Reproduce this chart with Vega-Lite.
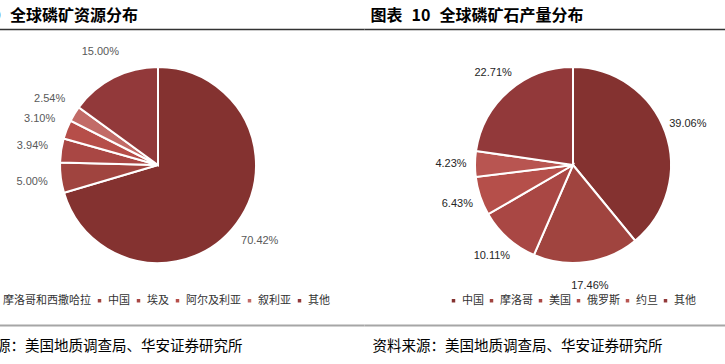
{
  "$schema": "https://vega.github.io/schema/vega-lite/v6.json",
  "padding": {"left": -50, "right": -57, "top": 7, "bottom": 0},
  "background": "white",
  "spacing": 0,
  "config": {"view": {"stroke": null}, "font": "Noto Sans CJK SC"},
  "resolve": {"scale": {"color": "independent"}, "legend": {"color": "independent"}},
  "hconcat": [
    {
      "width": 412,
      "height": 272,
      "data": {"values": [
        {"name": "摩洛哥和西撒哈拉", "value": 0.7042, "ord": 1},
        {"name": "中国", "value": 0.05, "ord": 2},
        {"name": "埃及", "value": 0.0394, "ord": 3},
        {"name": "阿尔及利亚", "value": 0.031, "ord": 4},
        {"name": "叙利亚", "value": 0.0254, "ord": 5},
        {"name": "其他", "value": 0.15, "ord": 6}
      ]},
      "layer": [
        {
          "mark": {"type": "arc", "outerRadius": 98, "stroke": "white", "strokeWidth": 2},
          "encoding": {
            "theta": {"field": "value", "type": "quantitative", "stack": true},
            "order": {"field": "ord", "type": "quantitative"},
            "color": {
              "field": "name", "type": "nominal",
              "scale": {"domain": ["摩洛哥和西撒哈拉", "中国", "埃及", "阿尔及利亚", "叙利亚", "其他"],
                        "range": ["#843230", "#a0443f", "#a94744", "#b64e49", "#c26b67", "#92393a"]},
              "legend": {"orient": "none", "legendX": 37, "legendY": 266, "direction": "horizontal", "title": null,
                         "symbolType": "square", "symbolSize": 12, "symbolStrokeWidth": 0, "labelFontSize": 11,
                         "labelFont": "Noto Sans CJK SC", "labelColor": "#333333", "columnPadding": 3, "labelOffset": 3}
            }
          }
        },
        {
          "mark": {"type": "text", "radius": 127, "font": "Liberation Sans", "fontSize": 11, "fill": "#595959"},
          "encoding": {
            "theta": {"field": "value", "type": "quantitative", "stack": true},
            "order": {"field": "ord", "type": "quantitative"},
            "detail": {"field": "name", "type": "nominal"},
            "text": {"field": "value", "type": "quantitative", "format": ".2%"}
          }
        },
        {
          "mark": {"type": "rule", "opacity": 0},
          "encoding": {
            "x": {"datum": 0, "type": "quantitative", "scale": {"domain": [0, 1]},
                  "axis": {"orient": "bottom", "offset": 24, "domainColor": "#a6a6a6", "domainWidth": 2,
                           "ticks": false, "labels": false, "grid": false,
                           "title": "资料来源：美国地质调查局、华安证券研究所", "titleAnchor": "start", "titleAlign": "left",
                           "titleFontSize": 14.5, "titleFontWeight": "normal", "titleColor": "#000000",
                           "titlePadding": 14, "titleFont": "Noto Sans CJK SC"}}
          }
        },
        {
          "mark": {"type": "rule", "opacity": 0},
          "encoding": {
            "x": {"datum": 0, "type": "quantitative", "scale": {"domain": [0, 1]},
                  "axis": {"orient": "top", "domainColor": "#333333", "domainWidth": 1.5,
                           "ticks": false, "labels": false, "grid": false,
                           "title": "图表\u2002\u200a9\u2002\u200a全球磷矿资源分布", "titleX": -2, "titleAlign": "left",
                           "titleFontSize": 16, "titleFontWeight": "bold", "titleColor": "#000000",
                           "titlePadding": 6, "titleFont": "Noto Sans CJK SC"}}
          }
        }
      ],
      "resolve": {"scale": {"x": "independent"}, "axis": {"x": "independent"}}
    },
    {
      "width": 418,
      "height": 272,
      "data": {"values": [
        {"name": "中国", "value": 0.3906, "ord": 1},
        {"name": "摩洛哥", "value": 0.1746, "ord": 2},
        {"name": "美国", "value": 0.1011, "ord": 3},
        {"name": "俄罗斯", "value": 0.0643, "ord": 4},
        {"name": "约旦", "value": 0.0423, "ord": 5},
        {"name": "其他", "value": 0.2271, "ord": 6}
      ]},
      "layer": [
        {
          "mark": {"type": "arc", "outerRadius": 98, "stroke": "white", "strokeWidth": 2},
          "encoding": {
            "theta": {"field": "value", "type": "quantitative", "stack": true},
            "order": {"field": "ord", "type": "quantitative"},
            "color": {
              "field": "name", "type": "nominal",
              "scale": {"domain": ["中国", "摩洛哥", "美国", "俄罗斯", "约旦", "其他"],
                        "range": ["#843230", "#a0443f", "#a94744", "#b54f4a", "#b85551", "#92393a"]},
              "legend": {"orient": "none", "legendX": 84, "legendY": 266, "direction": "horizontal", "title": null,
                         "symbolType": "square", "symbolSize": 12, "symbolStrokeWidth": 0, "labelFontSize": 11,
                         "labelFont": "Noto Sans CJK SC", "labelColor": "#333333", "columnPadding": 2, "labelOffset": 3}
            }
          }
        },
        {
          "mark": {"type": "text", "radius": 122, "font": "Liberation Sans", "fontSize": 11, "fill": "#262626"},
          "encoding": {
            "theta": {"field": "value", "type": "quantitative", "stack": true},
            "order": {"field": "ord", "type": "quantitative"},
            "detail": {"field": "name", "type": "nominal"},
            "text": {"field": "value", "type": "quantitative", "format": ".2%"}
          }
        },
        {
          "mark": {"type": "rule", "opacity": 0},
          "encoding": {
            "x": {"datum": 0, "type": "quantitative", "scale": {"domain": [0, 1]},
                  "axis": {"orient": "bottom", "offset": 24, "domainColor": "#a6a6a6", "domainWidth": 2,
                           "ticks": false, "labels": false, "grid": false,
                           "title": "资料来源：美国地质调查局、华安证券研究所", "titleX": 8, "titleAlign": "left",
                           "titleFontSize": 14.5, "titleFontWeight": "normal", "titleColor": "#000000",
                           "titlePadding": 14, "titleFont": "Noto Sans CJK SC"}}
          }
        },
        {
          "mark": {"type": "rule", "opacity": 0},
          "encoding": {
            "x": {"datum": 0, "type": "quantitative", "scale": {"domain": [0, 1]},
                  "axis": {"orient": "top", "domainColor": "#333333", "domainWidth": 1.5,
                           "ticks": false, "labels": false, "grid": false,
                           "title": "图表\u2002\u200a10\u2002\u200a全球磷矿石产量分布", "titleX": 6, "titleAlign": "left",
                           "titleFontSize": 16, "titleFontWeight": "bold", "titleColor": "#000000",
                           "titlePadding": 6, "titleFont": "Noto Sans CJK SC"}}
          }
        }
      ],
      "resolve": {"scale": {"x": "independent"}, "axis": {"x": "independent"}}
    }
  ]
}
